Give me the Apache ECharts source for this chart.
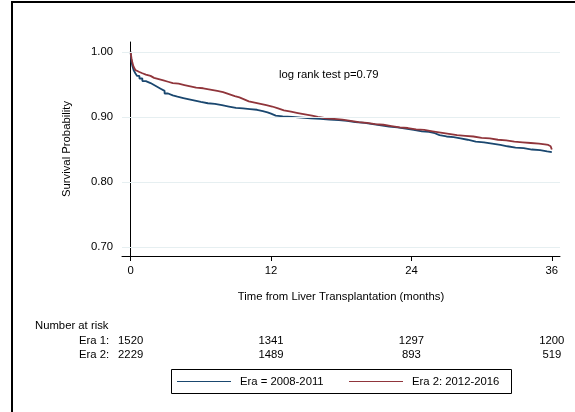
<!DOCTYPE html>
<html>
<head>
<meta charset="utf-8">
<script src="https://cdn.jsdelivr.net/npm/echarts@6/dist/echarts.min.js"></script>
<style>
  html, body { margin: 0; padding: 0; background: #fff; }
  #chart { width: 575px; height: 412px; }
</style>
</head>
<body>
<div id="chart"></div>
<script>
// Kaplan-Meier survival after liver transplantation, by era
const era1Months = [0, 0.03, 0.08, 0.15, 0.25, 0.4, 0.55, 0.75, 1.0, 1.3, 1.7, 2.0, 2.3, 2.6, 2.9, 3.2, 3.6, 4.0, 4.5, 5.0, 5.5, 6.0, 6.6, 7.2, 7.8, 8.4, 9.0, 9.6, 10.2, 10.8, 11.3, 11.7, 12.0, 12.4, 13.0, 13.8, 14.6, 15.4, 16.2, 17.0, 17.8, 18.5, 19.2, 20.0, 20.7, 21.4, 22.1, 22.8, 23.5, 24.2, 24.9, 25.5, 26.0, 26.4, 27.0, 27.6, 28.2, 28.8, 29.5, 30.2, 30.9, 31.6, 32.2, 32.9, 33.6, 34.3, 35.0, 35.6, 36.0];
const era1Survival = [1.000, 0.992, 0.984, 0.978, 0.972, 0.967, 0.963, 0.959, 0.955, 0.952, 0.949, 0.946, 0.943, 0.940, 0.936, 0.933, 0.931, 0.929, 0.927, 0.925, 0.923, 0.921, 0.920, 0.918, 0.916, 0.914, 0.913, 0.912, 0.911, 0.909, 0.907, 0.905, 0.902, 0.901, 0.900, 0.899, 0.898, 0.897, 0.896, 0.895, 0.894, 0.892, 0.891, 0.889, 0.887, 0.885, 0.884, 0.882, 0.880, 0.878, 0.877, 0.875, 0.872, 0.870, 0.869, 0.867, 0.865, 0.862, 0.861, 0.859, 0.857, 0.855, 0.853, 0.852, 0.850, 0.849, 0.847, 0.846, 0.845];

const era2Months = [0, 0.03, 0.08, 0.15, 0.25, 0.4, 0.55, 0.75, 1.0, 1.3, 1.7, 2.0, 2.4, 2.8, 3.2, 3.6, 4.1, 4.6, 5.1, 5.6, 6.2, 6.8, 7.4, 7.9, 8.4, 8.9, 9.3, 9.7, 10.1, 10.6, 11.1, 11.6, 12.1, 12.6, 13.1, 13.7, 14.3, 14.9, 15.5, 16.0, 16.7, 17.4, 18.1, 18.8, 19.5, 20.2, 20.9, 21.6, 22.3, 23.0, 23.7, 24.4, 25.1, 25.8, 26.5, 27.2, 27.9, 28.6, 29.3, 30.0, 30.7, 31.4, 32.1, 32.8, 33.5, 34.2, 34.9, 35.4, 35.7, 35.9, 36.0];
const era2Survival = [1.000, 0.995, 0.989, 0.983, 0.977, 0.972, 0.969, 0.967, 0.965, 0.963, 0.960, 0.958, 0.956, 0.954, 0.952, 0.951, 0.949, 0.947, 0.945, 0.944, 0.942, 0.940, 0.938, 0.935, 0.932, 0.930, 0.927, 0.924, 0.922, 0.920, 0.918, 0.916, 0.913, 0.910, 0.908, 0.906, 0.904, 0.902, 0.900, 0.898, 0.897, 0.896, 0.894, 0.892, 0.891, 0.889, 0.888, 0.886, 0.884, 0.883, 0.881, 0.880, 0.878, 0.876, 0.874, 0.872, 0.871, 0.870, 0.868, 0.867, 0.865, 0.864, 0.862, 0.861, 0.860, 0.859, 0.858, 0.857, 0.855, 0.852, 0.850];

const xTicks = [0, 12, 24, 36];
const yTicks = [0.70, 0.80, 0.90, 1.00];

const seriesNames = ['Era = 2008-2011', 'Era 2: 2012-2016'];
const riskRowLabels = ['Era 1:', 'Era 2:'];
const atRiskEra1 = [1520, 1341, 1297, 1200];
const atRiskEra2 = [2229, 1489, 893, 519];

const FONT = 'Liberation Sans, Arial, Helvetica, sans-serif';
const FS = 11.3;
const BLUE = '#1a476f';
const RED = '#90353b';
const X_MIN = -0.74, X_MAX = 36.7;
const Y_MIN = 0.6866, Y_MAX = 1.015;

const zip = (xs, ys) => xs.map((x, i) => [x, ys[i]]);

const chart = echarts.init(document.getElementById('chart'), null, { renderer: 'canvas' });

const axisCommon = {
  axisLine: { show: true, lineStyle: { color: '#000', width: 1 } },
  axisTick: { show: true, length: 5, lineStyle: { color: '#000', width: 1 } },
  splitLine: { show: false },
  nameTextStyle: { fontFamily: FONT, fontSize: FS, color: '#000' }
};

chart.setOption({
  animation: false,
  backgroundColor: '#fff',
  grid: { left: 122, top: 42, right: 15, bottom: 156 },
  xAxis: Object.assign({}, axisCommon, {
    type: 'value',
    min: X_MIN, max: X_MAX,
    name: 'Time from Liver Transplantation (months)',
    nameLocation: 'middle', nameGap: 35,
    axisTick: Object.assign({}, axisCommon.axisTick, { customValues: xTicks }),
    axisLabel: { customValues: xTicks, margin: 9, fontFamily: FONT, fontSize: FS, color: '#000' }
  }),
  yAxis: Object.assign({}, axisCommon, {
    type: 'value',
    min: Y_MIN, max: Y_MAX,
    name: 'Survival Probability',
    nameLocation: 'middle', nameGap: 50,
    axisTick: Object.assign({}, axisCommon.axisTick, { customValues: yTicks }),
    axisLabel: {
      customValues: yTicks, margin: 9, fontFamily: FONT, fontSize: FS, color: '#000',
      formatter: v => v.toFixed(2)
    }
  }),
  series: [
    {
      // horizontal reference lines at the labelled survival levels
      type: 'line', data: [], z: 1, silent: true,
      markLine: {
        silent: true, symbol: ['none', 'none'], label: { show: false },
        lineStyle: { color: '#e6eff1', width: 1, type: 'solid' },
        data: yTicks.map(v => ({ yAxis: v }))
      }
    },
    {
      name: seriesNames[0], type: 'line', step: 'end', showSymbol: false, z: 3,
      lineStyle: { color: BLUE, width: 1.8 }, itemStyle: { color: BLUE },
      data: zip(era1Months, era1Survival)
    },
    {
      name: seriesNames[1], type: 'line', step: 'end', showSymbol: false, z: 4,
      lineStyle: { color: RED, width: 1.8 }, itemStyle: { color: RED },
      data: zip(era2Months, era2Survival)
    }
  ]
});

// Number-at-risk table, aligned under the x-axis ticks
const txt = (x, y, text, align) => ({
  type: 'text', x, y,
  style: { text, fontFamily: FONT, fontSize: FS, fill: '#000', align: align || 'left', verticalAlign: 'middle' }
});

const tickX = xTicks.map(t => chart.convertToPixel({ gridIndex: 0 }, [t, Y_MIN])[0]);
const graphics = [
  // outer frame
  { type: 'line', shape: { x1: 12, y1: 2, x2: 575, y2: 2 }, style: { stroke: '#000', lineWidth: 2 } },
  { type: 'line', shape: { x1: 12, y1: 1, x2: 12, y2: 412 }, style: { stroke: '#000', lineWidth: 2 } },
  txt(279, 75, 'log rank test p=0.79'),
  txt(35, 326, 'Number at risk'),
  txt(79, 341, riskRowLabels[0]),
  txt(79, 355, riskRowLabels[1])
];
tickX.forEach((x, i) => {
  graphics.push(txt(x, 341, String(atRiskEra1[i]), 'center'));
  graphics.push(txt(x, 355, String(atRiskEra2[i]), 'center'));
});

// legend box
graphics.push(
  { type: 'rect', shape: { x: 171.5, y: 369.5, width: 340, height: 24 }, style: { fill: 'none', stroke: '#000', lineWidth: 1 } },
  { type: 'line', shape: { x1: 177, y1: 381.5, x2: 231, y2: 381.5 }, style: { stroke: BLUE, lineWidth: 1 } },
  txt(240, 381.5, seriesNames[0]),
  { type: 'line', shape: { x1: 349, y1: 381.5, x2: 403, y2: 381.5 }, style: { stroke: RED, lineWidth: 1 } },
  txt(412, 381.5, seriesNames[1])
);

chart.setOption({ graphic: graphics });
</script>
</body>
</html>
